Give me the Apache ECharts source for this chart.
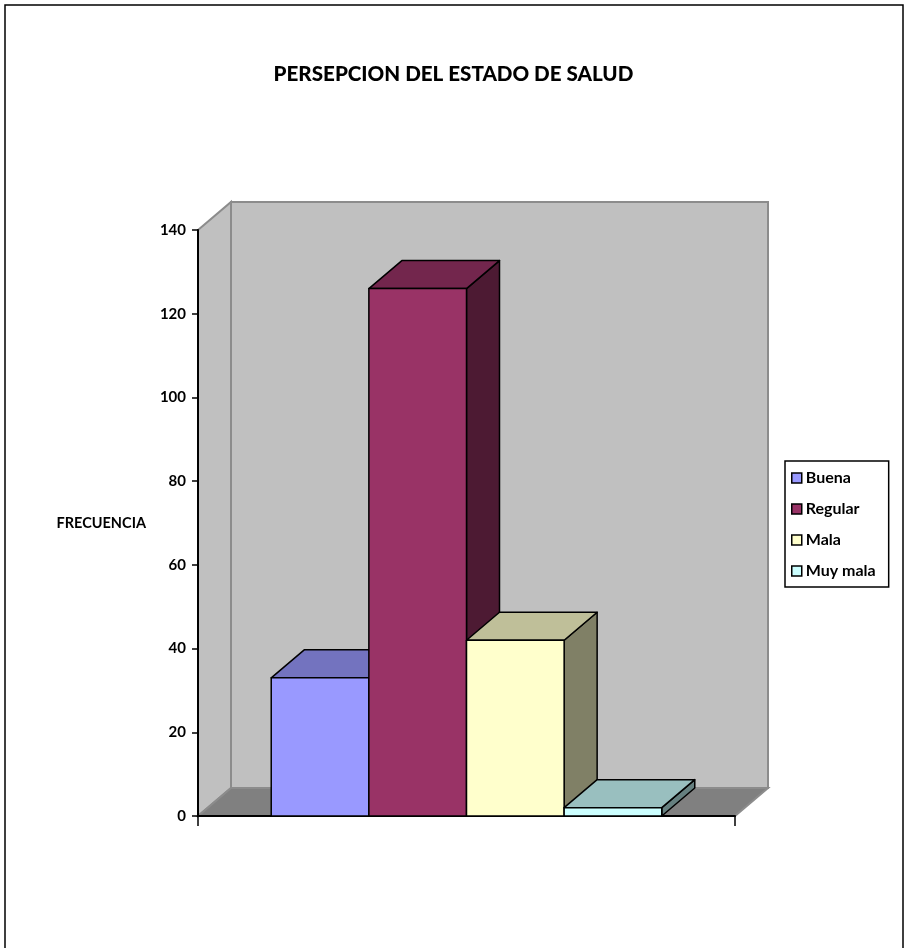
<!DOCTYPE html>
<html>
<head>
<meta charset="utf-8">
<script src="https://cdn.jsdelivr.net/npm/echarts@6/dist/echarts.min.js"></script>
<style>
  html, body { margin: 0; padding: 0; background: #fff; }
  #chart { width: 907px; height: 948px; }
</style>
</head>
<body>
<div id="chart"></div>
<script>
// Perception of health status: respondents per answer
const categories = ['Estado de salud'];
const seriesNames = ['Buena', 'Regular', 'Mala', 'Muy mala'];
const values = [33, 126, 42, 2];
const frontColors = ['#9999ff', '#993366', '#ffffcc', '#ccffff'];
const yMin = 0;
const yMax = 140;
const yStep = 20;

const FONT = 'Lato, "Open Sans", sans-serif';
const DEPTH_X = 33;   // 3D depth offset
const DEPTH_Y = -28;
const GAP_RATIO = 1.5; // gap between groups, in bar widths

function shade(hex, f) {
  const n = parseInt(hex.slice(1), 16);
  const r = Math.round(((n >> 16) & 255) * f);
  const g = Math.round(((n >> 8) & 255) * f);
  const b = Math.round((n & 255) * f);
  return 'rgb(' + r + ',' + g + ',' + b + ')';
}

// Back wall, side wall and floor of the 3D plot area
function renderWalls(params, api) {
  const cs = params.coordSys;
  const x0 = cs.x, x1 = cs.x + cs.width;
  const yT = cs.y, yB = cs.y + cs.height;
  const wallStyle = { fill: '#c0c0c0', stroke: '#8c8c8c', lineWidth: 2 };
  return {
    type: 'group',
    children: [
      { type: 'polygon', shape: { points: [[x0, yT], [x0 + DEPTH_X, yT + DEPTH_Y], [x0 + DEPTH_X, yB + DEPTH_Y], [x0, yB]] }, style: wallStyle },
      { type: 'rect', shape: { x: x0 + DEPTH_X, y: yT + DEPTH_Y, width: cs.width, height: cs.height }, style: wallStyle },
      { type: 'polygon', shape: { points: [[x0, yB], [x0 + DEPTH_X, yB + DEPTH_Y], [x1 + DEPTH_X, yB + DEPTH_Y], [x1, yB]] }, style: { fill: '#808080', stroke: '#8c8c8c', lineWidth: 2 } }
    ]
  };
}

// One 3D column: front face, top face and right side face
function makeBarRenderer(idx) {
  return function (params, api) {
    const v = api.value(1);
    const band = api.size([1, 0])[0];
    const barW = band / (seriesNames.length + GAP_RATIO);
    const cx = api.coord([api.value(0), 0])[0];
    const left = cx - band / 2 + barW * GAP_RATIO / 2 + idx * barW;
    const right = left + barW;
    const yTop = api.coord([api.value(0), v])[1];
    const yBot = api.coord([api.value(0), 0])[1];
    const base = frontColors[idx];
    const edge = { stroke: '#000', lineWidth: 1.5, lineJoin: 'round' };
    return {
      type: 'group',
      children: [
        { type: 'polygon', shape: { points: [[right, yTop], [right + DEPTH_X, yTop + DEPTH_Y], [right + DEPTH_X, yBot + DEPTH_Y], [right, yBot]] }, style: Object.assign({ fill: shade(base, 0.5) }, edge) },
        { type: 'polygon', shape: { points: [[left, yTop], [left + DEPTH_X, yTop + DEPTH_Y], [right + DEPTH_X, yTop + DEPTH_Y], [right, yTop]] }, style: Object.assign({ fill: shade(base, 0.75) }, edge) },
        { type: 'rect', shape: { x: left, y: yTop, width: barW, height: yBot - yTop }, style: Object.assign({ fill: base }, edge) }
      ]
    };
  };
}

const chart = echarts.init(document.getElementById('chart'), null, { renderer: 'canvas' });

const series = [{
  name: '__walls',
  type: 'custom',
  silent: true,
  z: -1,
  data: [[0]],
  renderItem: renderWalls
}];
seriesNames.forEach(function (name, i) {
  series.push({
    name: name,
    type: 'custom',
    z: 2,
    itemStyle: { color: frontColors[i], borderColor: '#000', borderWidth: 1.5 },
    data: [[0, values[i]]],
    renderItem: makeBarRenderer(i)
  });
});

chart.setOption({
  backgroundColor: '#fff',
  animation: false,
  title: {
    text: 'PERSEPCION DEL ESTADO DE SALUD',
    left: 'center',
    top: 59,
    textStyle: { fontFamily: FONT, fontWeight: 900, fontSize: 20.6, color: '#000' }
  },
  graphic: [{
    type: 'rect',
    shape: { x: 5, y: 5, width: 898, height: 1000 },
    style: { fill: 'none', stroke: '#000', lineWidth: 1.5 },
    silent: true,
    z: 100
  }],
  legend: {
    orient: 'vertical',
    left: 785,
    top: 461,
    data: seriesNames,
    icon: 'rect',
    itemWidth: 10,
    itemHeight: 10,
    itemGap: 13,
    padding: [8, 13, 7, 6],
    borderColor: '#000',
    borderWidth: 1.5,
    itemStyle: { borderColor: '#000', borderWidth: 1.5 },
    textStyle: { fontFamily: FONT, fontWeight: 'bold', fontSize: 16, color: '#000', lineHeight: 18, padding: [0, 0, 0, -1] },
    selectedMode: false
  },
  grid: { left: 198, top: 230, width: 537, height: 586, containLabel: false },
  xAxis: {
    type: 'category',
    data: categories,
    axisLine: { show: true, lineStyle: { color: '#000', width: 2 } },
    axisTick: { show: true, length: 10, lineStyle: { color: '#000', width: 1.5 } },
    axisLabel: { show: false },
    splitLine: { show: false }
  },
  yAxis: {
    type: 'value',
    min: yMin,
    max: yMax,
    interval: yStep,
    name: 'FRECUENCIA',
    nameLocation: 'middle',
    nameRotate: 0,
    nameGap: 52,
    nameTextStyle: { fontFamily: FONT, fontWeight: 'bold', fontSize: 14.5, color: '#000', align: 'right' },
    axisLine: { show: true, lineStyle: { color: '#000', width: 2 } },
    axisTick: { show: true, length: 6, lineStyle: { color: '#000', width: 1.5 } },
    axisLabel: { fontFamily: FONT, fontWeight: 'bold', fontSize: 15, color: '#000', margin: 12 },
    splitLine: { show: false }
  },
  series: series
});
</script>
</body>
</html>
